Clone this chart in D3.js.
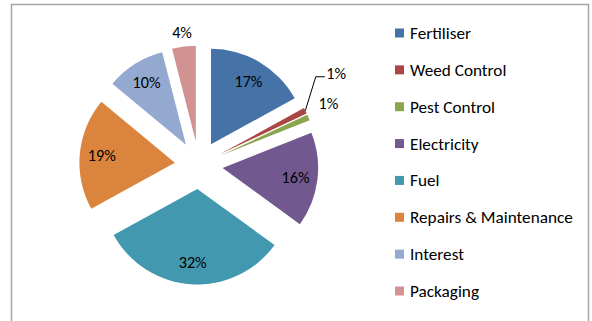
<!DOCTYPE html>
<html>
<head>
<meta charset="utf-8">
<script src="https://cdn.jsdelivr.net/npm/d3@7"></script>
<style>
  body { margin: 0; background: #fff; }
  text { font-family: Carlito, Calibri, Lato, sans-serif; fill: #000; }
</style>
</head>
<body>
<div id="chart"></div>
<script>
// cost shares (%)
const categories = ["Fertiliser", "Weed Control", "Pest Control", "Electricity",
                    "Fuel", "Repairs & Maintenance", "Interest", "Packaging"];
const shares = [17, 1, 1, 16, 32, 19, 10, 4];
const colors = ["#4572A7", "#AA4643", "#89A54E", "#71588F",
                "#4198AF", "#DB843D", "#93A9CF", "#D19392"];

const W = 592, H = 321;
const cx = 198.8, cy = 165, r = 95.5, explode = 24;

const svg = d3.select("#chart").append("svg")
    .attr("width", W)
    .attr("height", H);

// chart frame (bottom edge runs off the picture)
svg.append("rect")
    .attr("x", 11.5).attr("y", 4.5)
    .attr("width", 577).attr("height", 400)
    .attr("fill", "none")
    .attr("stroke", "#a6a6a6")
    .attr("stroke-width", 1.5);

// fit font sizes to the text widths seen in the reference
function fit(str, target) {
  const t = svg.append("text").attr("font-size", 17).text(str);
  const s = 17 * target / t.node().getComputedTextLength();
  t.remove();
  return s;
}
const fs = fit("Repairs & Maintenance", 163);
const ls = fit("17%", 28);

const pie = d3.pie().sort(null).value(d => d);
const arcs = pie(shares);
const arc = d3.arc().innerRadius(0).outerRadius(r);

const mid = d => (d.startAngle + d.endAngle) / 2;
const off = (d, k) => [Math.sin(mid(d)) * k, -Math.cos(mid(d)) * k];

const g = svg.append("g").attr("transform", `translate(${cx},${cy})`);

const slice = g.selectAll("g.slice")
    .data(arcs)
  .enter().append("g")
    .attr("class", "slice")
    .attr("transform", d => {
      const [dx, dy] = off(d, explode);
      return `translate(${dx},${dy})`;
    });

slice.append("path")
    .attr("d", arc)
    .attr("fill", (d, i) => colors[i]);

// labels
const label = d => d.data + "%";
slice.each(function(d, i) {
  const s = d3.select(this);
  if (i === 1) {
    // weed control: leader line
    const p0 = off(d, r);
    const p1 = [p0[0] + 10.5, p0[1] - 34];
    const p2 = [p1[0] + 9, p1[1]];
    s.append("polyline")
        .attr("points", [p0, p1, p2].map(p => p.join(",")).join(" "))
        .attr("fill", "none")
        .attr("stroke", "#000")
        .attr("stroke-width", 1);
    s.append("text")
        .attr("x", p2[0] + 1.5).attr("y", p2[1] - 3)
        .attr("dy", "0.35em")
        .attr("font-size", ls)
        .text(label(d));
  } else if (i === 2) {
    const p0 = off(d, r);
    s.append("text")
        .attr("x", p0[0] + 20).attr("y", p0[1] - 14)
        .attr("text-anchor", "middle")
        .attr("dy", "0.35em")
        .attr("font-size", ls)
        .text(label(d));
  } else {
    const k = d.data < 5 ? r * 1.15 : r * 0.77;
    const [x, y] = off(d, k);
    s.append("text")
        .attr("x", x).attr("y", y)
        .attr("text-anchor", "middle")
        .attr("dy", "0.35em")
        .attr("font-size", ls)
        .text(label(d));
  }
});

// legend
const ly = d3.scalePoint().domain(categories).range([33, 291]);
const legend = svg.append("g").selectAll("g")
    .data(categories)
  .enter().append("g")
    .attr("transform", d => `translate(395,${ly(d)})`);

legend.append("rect")
    .attr("x", 0).attr("y", -4.5)
    .attr("width", 9).attr("height", 9)
    .attr("fill", (d, i) => colors[i]);

legend.append("text")
    .attr("x", 15)
    .attr("dy", "0.35em")
    .attr("font-size", fs)
    .text(d => d);
</script>
</body>
</html>
